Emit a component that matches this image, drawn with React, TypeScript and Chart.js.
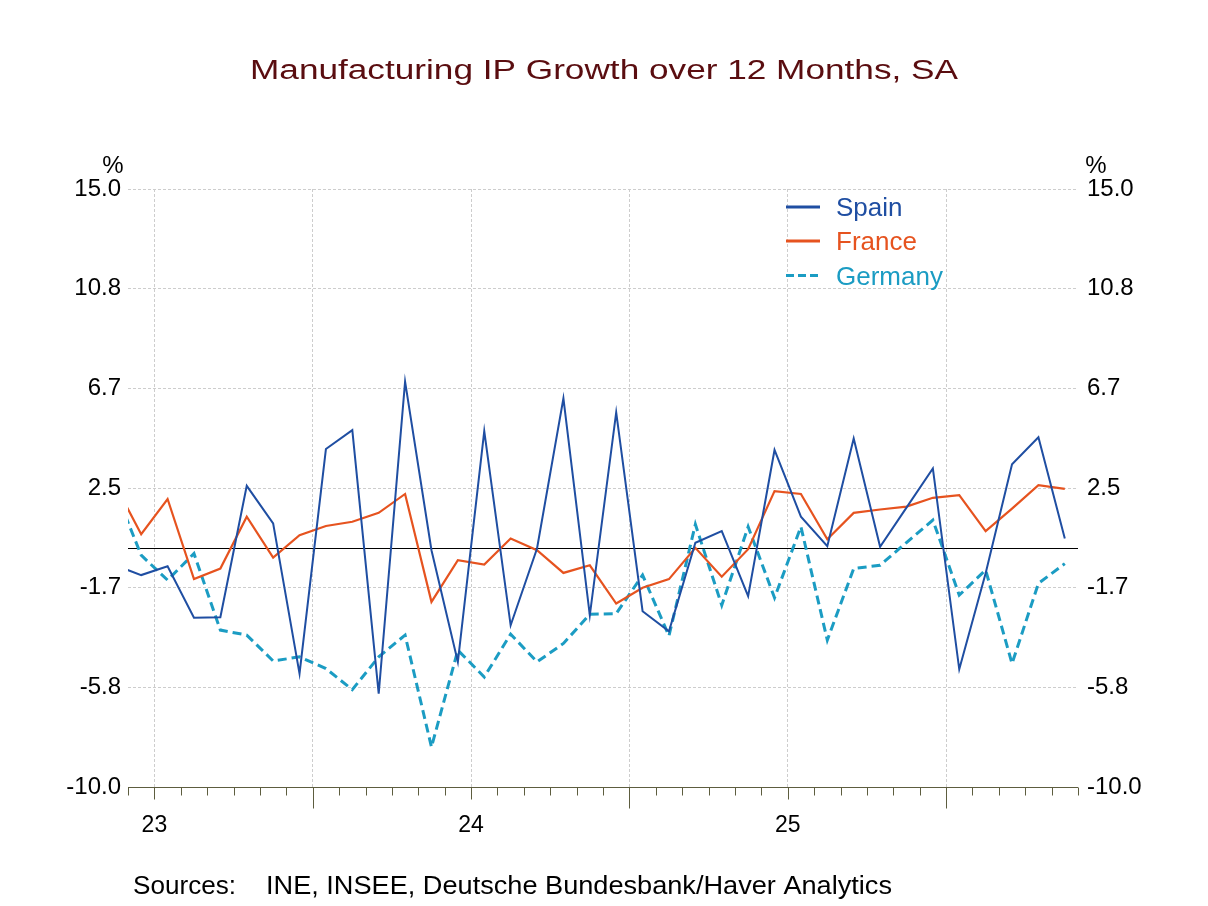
import { useEffect, useRef } from "react";
import { Chart, registerables } from "chart.js";

Chart.register(...registerables);

// Monthly observations; the first month sits just left of the plotted window and is clipped.
const MONTHS = [
  "2022-11", "2022-12",
  "2023-01", "2023-02", "2023-03", "2023-04", "2023-05", "2023-06",
  "2023-07", "2023-08", "2023-09", "2023-10", "2023-11", "2023-12",
  "2024-01", "2024-02", "2024-03", "2024-04", "2024-05", "2024-06",
  "2024-07", "2024-08", "2024-09", "2024-10", "2024-11", "2024-12",
  "2025-01", "2025-02", "2025-03", "2025-04", "2025-05", "2025-06",
  "2025-07", "2025-08", "2025-09", "2025-10", "2025-11",
];

// Manufacturing IP, % change over 12 months, SA
const SPAIN = [
  -0.73, -1.14, -0.77, -2.92, -2.90, 2.59, 1.02, -5.26, 4.13, 4.92, -6.10, 6.95,
  -0.10, -4.77, 4.88, -3.24, -0.03, 6.25, -2.82, 5.66, -2.65, -3.49, 0.21, 0.70,
  -2.02, 4.09, 1.30, 0.07, 4.57, 0.04, 1.68, 3.32, -5.08, -1.06, 3.49, 4.62, 0.39,
];
const FRANCE = [
  2.67, 0.57, 2.04, -1.31, -0.87, 1.30, -0.41, 0.53, 0.91, 1.09, 1.46, 2.25,
  -2.26, -0.52, -0.70, 0.39, -0.10, -1.05, -0.73, -2.33, -1.67, -1.31, 0.00, -1.21,
  -0.06, 2.37, 2.25, 0.36, 1.46, 1.60, 1.72, 2.09, 2.20, 0.70, 1.64, 2.62, 2.46,
];
const GERMANY = [
  2.44, -0.31, -1.35, -0.24, -3.44, -3.65, -4.73, -4.56, -5.05, -5.93, -4.56, -3.65,
  -8.33, -4.28, -5.40, -3.61, -4.77, -4.00, -2.78, -2.75, -1.14, -3.68, 0.98, -2.40,
  0.88, -2.09, 0.88, -3.86, -0.87, -0.73, 0.22, 1.16, -1.98, -0.93, -4.84, -1.49, -0.66,
];

const SERIES_NAMES = ["Spain", "France", "Germany"];

// Value axis: seven evenly spaced ticks from -10 to 15
const Y_MIN = -10;
const Y_MAX = 15;
const Y_TICKS = [-10, -35 / 6, -10 / 6, 2.5, 40 / 6, 65 / 6, 15];

const TITLE = "Manufacturing IP Growth over 12 Months, SA";
const SOURCE_HEAD = "Sources:";
const SOURCE_BODY = "INE, INSEE, Deutsche Bundesbank/Haver Analytics";

const FONT = "'Liberation Sans', Arial, sans-serif";
const COLORS = {
  spain: "#1f4ea2",
  france: "#e6531f",
  germany: "#1b9cc3",
  title: "#5a0d10",
  grid: "#cdcdcd",
  axis: "#5d5d3f",
};

const W = 1208;
const H = 906;

// month boundaries sit half a step either side of each observation
const boundaryMonth = (v: number) => MONTHS[Math.round(v + 0.5)] || "";

// draws text in the given font, widened horizontally to fill a set width
const wideText = (ctx: CanvasRenderingContext2D, text: string, x: number, y: number, width: number) => {
  const tw = ctx.measureText(text).width;
  ctx.save();
  ctx.translate(x, y);
  ctx.scale(width / tw, 1);
  ctx.fillText(text, 0, 0);
  ctx.restore();
};

const decorations = {
  id: "decorations",
  beforeDatasetsDraw(chart: any) {
    const { ctx, chartArea: a, scales } = chart;
    const y0 = Math.round(scales.y.getPixelForValue(0)) + 0.5;
    ctx.save();
    ctx.strokeStyle = "#000";
    ctx.lineWidth = 1;
    ctx.beginPath();
    ctx.moveTo(a.left, y0);
    ctx.lineTo(a.right, y0);
    ctx.stroke();
    ctx.restore();
  },
  afterDatasetsDraw(chart: any) {
    const { ctx, chartArea: a, scales } = chart;
    const xs = scales.x;
    const base = Math.round(a.bottom) + 0.5;
    ctx.save();
    ctx.strokeStyle = COLORS.axis;
    ctx.lineWidth = 1;
    ctx.beginPath();
    ctx.moveTo(a.left, base);
    ctx.lineTo(a.right, base);
    for (const t of xs.ticks) {
      const m = boundaryMonth(t.value);
      const px = Math.round(xs.getPixelForValue(t.value)) + 0.5;
      let len = 8;
      if (m.endsWith("-01")) len = 12;
      if (m.endsWith("-07")) len = 21;
      ctx.moveTo(px, base);
      ctx.lineTo(px, base + len);
    }
    ctx.stroke();
    ctx.restore();
  },
  afterDraw(chart: any) {
    const { ctx } = chart;
    ctx.save();

    // title, set in a slightly wide face
    ctx.fillStyle = COLORS.title;
    ctx.font = `27px ${FONT}`;
    ctx.textBaseline = "alphabetic";
    ctx.textAlign = "left";
    wideText(ctx, TITLE, 250, 79, 708);

    // unit markers above both value axes
    ctx.fillStyle = "#000";
    ctx.font = `24px ${FONT}`;
    ctx.textAlign = "center";
    ctx.fillText("%", 113, 173);
    ctx.fillText("%", 1096, 173);

    // legend
    const lx = 786;
    const rows = [
      { name: SERIES_NAMES[0], color: COLORS.spain, dash: [] as number[], y: 207 },
      { name: SERIES_NAMES[1], color: COLORS.france, dash: [] as number[], y: 241 },
      { name: SERIES_NAMES[2], color: COLORS.germany, dash: [8, 4], y: 275.5 },
    ];
    ctx.textAlign = "left";
    ctx.font = `26px ${FONT}`;
    for (const r of rows) {
      ctx.strokeStyle = r.color;
      ctx.lineWidth = 3;
      ctx.setLineDash(r.dash);
      ctx.beginPath();
      ctx.moveTo(lx, r.y);
      ctx.lineTo(lx + 34, r.y);
      ctx.stroke();
      ctx.setLineDash([]);
      ctx.fillStyle = r.color;
      ctx.fillText(r.name, 836, r.y + 9);
    }

    // source note
    ctx.fillStyle = "#000";
    ctx.font = `25px ${FONT}`;
    wideText(ctx, SOURCE_HEAD, 133, 894, 103);
    wideText(ctx, SOURCE_BODY, 266, 894, 626);
    ctx.restore();
  },
};

export default function App() {
  const ref = useRef<HTMLCanvasElement | null>(null);

  useEffect(() => {
    if (!ref.current) return;
    const pts = (arr: number[]) => arr.map((v, i) => ({ x: i, y: v }));
    const yTicks = (s: any) => {
      s.ticks = Y_TICKS.map((v) => ({ value: v }));
    };
    const tickFont = { family: FONT, size: 24 };

    const chart = new Chart(ref.current, {
      type: "line",
      data: {
        datasets: [
          {
            label: SERIES_NAMES[0],
            data: pts(SPAIN),
            borderColor: COLORS.spain,
            borderWidth: 2,
            pointRadius: 0,
            tension: 0,
          },
          {
            label: SERIES_NAMES[1],
            data: pts(FRANCE),
            borderColor: COLORS.france,
            borderWidth: 2.2,
            pointRadius: 0,
            tension: 0,
          },
          {
            label: SERIES_NAMES[2],
            data: pts(GERMANY),
            borderColor: COLORS.germany,
            borderWidth: 3,
            borderDash: [9, 5],
            pointRadius: 0,
            tension: 0,
          },
        ],
      },
      options: {
        animation: false,
        responsive: false,
        devicePixelRatio: 1,
        layout: { padding: { top: 189, left: 0, right: 0, bottom: 0 } },
        plugins: {
          legend: { display: false },
          title: { display: false },
          tooltip: { enabled: false },
        },
        scales: {
          x: {
            type: "linear",
            min: 0.5,
            max: MONTHS.length - 0.5,
            afterBuildTicks: (s: any) => {
              // one tick on every month boundary
              s.ticks = MONTHS.slice(1).map((_, i) => ({ value: i + 0.5 }));
              s.ticks.push({ value: MONTHS.length - 0.5 });
            },
            afterFit: (s: any) => {
              s.height = H - 787;
            },
            grid: {
              drawTicks: false,
              lineWidth: 1,
              color: (c: any) => {
                const m = boundaryMonth(c.tick?.value ?? -1);
                return m.endsWith("-01") || m.endsWith("-07") ? COLORS.grid : "rgba(0,0,0,0)";
              },
            },
            border: { display: false, dash: [3, 2] },
            ticks: {
              autoSkip: false,
              maxRotation: 0,
              padding: 25,
              color: "#000",
              font: { family: FONT, size: 23 },
              callback: (v: any) => {
                const m = boundaryMonth(Number(v));
                return m.endsWith("-01") ? m.slice(2, 4) : "";
              },
            },
          },
          y: {
            position: "left",
            min: Y_MIN,
            max: Y_MAX,
            afterBuildTicks: yTicks,
            afterFit: (s: any) => {
              s.width = 128;
            },
            grid: { drawTicks: false, color: COLORS.grid, lineWidth: 1 },
            border: { display: false, dash: [3, 2] },
            ticks: {
              padding: 7,
              color: "#000",
              font: tickFont,
              callback: (v: any) => Number(v).toFixed(1),
            },
          },
          y2: {
            position: "right",
            min: Y_MIN,
            max: Y_MAX,
            afterBuildTicks: yTicks,
            afterFit: (s: any) => {
              s.width = W - 1078;
            },
            grid: { drawTicks: false, drawOnChartArea: false },
            border: { display: false },
            ticks: {
              padding: 9,
              color: "#000",
              font: tickFont,
              callback: (v: any) => Number(v).toFixed(1),
            },
          },
        },
      },
      plugins: [decorations],
    } as any);

    return () => chart.destroy();
  }, []);

  return (
    <div style={{ position: "absolute", left: 0, top: 0, width: W, height: H, background: "#fff" }}>
      <canvas ref={ref} width={W} height={H} style={{ width: W, height: H, display: "block" }} />
    </div>
  );
}
